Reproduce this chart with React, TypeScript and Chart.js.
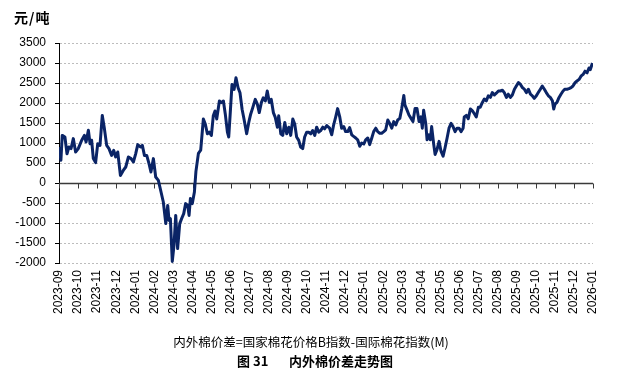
import React, { useEffect, useRef } from 'react';
import { Chart, registerables } from 'chart.js';

Chart.register(...registerables);

const monthLabels = [
  '2023-09', '2023-10', '2023-11', '2023-12', '2024-01', '2024-02', '2024-03', '2024-04',
  '2024-05', '2024-06', '2024-07', '2024-08', '2024-09', '2024-10', '2024-11', '2024-12',
  '2025-01', '2025-02', '2025-03', '2025-04', '2025-05', '2025-06', '2025-07', '2025-08',
  '2025-09', '2025-10', '2025-11', '2025-12', '2026-01',
];

// position along the time axis, in months since 2023-09
const monthPos = [
  0.00, 0.10, 0.17, 0.31, 0.42, 0.52, 0.63, 0.75, 0.87, 1.01,
  1.19, 1.33, 1.42, 1.54, 1.63, 1.71, 1.80, 1.92, 2.03, 2.15,
  2.27, 2.38, 2.50, 2.62, 2.76, 2.87, 2.97, 3.08, 3.22, 3.37,
  3.50, 3.64, 3.78, 3.90, 4.02, 4.13, 4.27, 4.37, 4.48, 4.60,
  4.72, 4.82, 4.95, 5.07, 5.21, 5.35, 5.47, 5.60, 5.70, 5.77,
  5.84, 5.94, 6.03, 6.12, 6.22, 6.33, 6.43, 6.54, 6.64, 6.75,
  6.82, 6.89, 6.99, 7.10, 7.18, 7.31, 7.43, 7.57, 7.67, 7.78,
  7.88, 7.99, 8.09, 8.18, 8.27, 8.41, 8.51, 8.62, 8.72, 8.83,
  8.90, 8.97, 9.07, 9.18, 9.28, 9.39, 9.49, 9.60, 9.70, 9.84,
  9.95, 10.05, 10.16, 10.29, 10.40, 10.50, 10.61, 10.71, 10.82, 10.92,
  11.03, 11.13, 11.24, 11.34, 11.45, 11.52, 11.63, 11.73, 11.84, 11.94,
  12.05, 12.15, 12.26, 12.36, 12.46, 12.57, 12.67, 12.78, 12.88, 12.99,
  13.09, 13.20, 13.30, 13.41, 13.51, 13.62, 13.72, 13.83, 13.93, 14.04,
  14.19, 14.30, 14.40, 14.51, 14.61, 14.72, 14.82, 14.93, 15.03, 15.14,
  15.24, 15.35, 15.45, 15.56, 15.66, 15.77, 15.87, 15.98, 16.08, 16.19,
  16.29, 16.40, 16.50, 16.61, 16.71, 16.82, 16.92, 17.03, 17.13, 17.24,
  17.34, 17.45, 17.55, 17.66, 17.76, 17.87, 17.97, 18.08, 18.14, 18.25,
  18.35, 18.46, 18.56, 18.67, 18.77, 18.88, 18.98, 19.05, 19.12, 19.23,
  19.30, 19.40, 19.47, 19.54, 19.65, 19.72, 19.82, 19.93, 20.03, 20.14,
  20.24, 20.35, 20.45, 20.56, 20.66, 20.77, 20.87, 20.98, 21.08, 21.19,
  21.25, 21.36, 21.46, 21.57, 21.67, 21.78, 21.88, 21.99, 22.09, 22.20,
  22.30, 22.41, 22.51, 22.62, 22.72, 22.83, 22.93, 23.04, 23.14, 23.25,
  23.35, 23.46, 23.56, 23.67, 23.77, 23.88, 23.98, 24.09, 24.19, 24.30,
  24.40, 24.51, 24.61, 24.72, 24.82, 24.92, 25.03, 25.13, 25.24, 25.34,
  25.45, 25.55, 25.66, 25.76, 25.87, 25.94, 26.01, 26.11, 26.22, 26.32,
  26.43, 26.53, 26.64, 26.74, 26.85, 26.95, 27.06, 27.16, 27.27, 27.37,
  27.48, 27.58, 27.69, 27.79, 27.86, 27.97,
];

// 内外棉价差 (元/吨)
const spread = [
  900, 570, 1190, 1150, 730, 900, 860, 1110, 775, 860,
  1070, 1190, 1025, 1320, 980, 1070, 610, 510, 980, 940,
  1690, 1360, 940, 860, 690, 815, 650, 775, 190, 315,
  400, 650, 610, 525, 730, 960, 900, 940, 690, 690,
  485, 275, 610, 150, 65, -225, -475, -1015, -560, -935,
  -890, -1960, -1560, -810, -1640, -1015, -890, -765, -515, -560,
  -810, -390, -515, -225, 290, 740, 820, 1600, 1475, 1230,
  1270, 1190, 1680, 1800, 1600, 2050, 2010, 2050, 1720, 1270,
  1150, 1680, 2460, 2340, 2630, 2380, 2255, 1845, 1600, 1230,
  1515, 1720, 1885, 2090, 1970, 1760, 2010, 2130, 2050, 2300,
  2010, 2090, 1760, 1640, 1395, 1680, 1230, 1190, 1515, 1230,
  1395, 1190, 1600, 1475, 1150, 1065, 900, 860, 1150, 1270,
  1270, 1230, 1310, 1190, 1395, 1270, 1310, 1395, 1355, 1435,
  1370, 1205, 1450, 1655, 1860, 1655, 1370, 1410, 1285, 1285,
  1385, 1205, 1165, 1125, 1080, 920, 1000, 975, 1080, 1125,
  960, 1125, 1285, 1370, 1285, 1245, 1245, 1285, 1330, 1575,
  1490, 1370, 1535, 1450, 1575, 1615, 1860, 2190, 1945, 1820,
  1700, 1615, 1535, 1860, 1860, 1535, 1655, 1370, 1820, 1490,
  1080, 1205, 1080, 1410, 960, 715, 835, 1040, 795, 670,
  875, 1125, 1370, 1490, 1410, 1285, 1370, 1370, 1285, 1370,
  1650, 1690, 1605, 1850, 1810, 1730, 1650, 1895, 1895, 2015,
  2100, 2055, 2180, 2140, 2260, 2200, 2245, 2300, 2300, 2320,
  2260, 2140, 2220, 2140, 2200, 2345, 2425, 2510, 2470, 2385,
  2345, 2260, 2345, 2220, 2180, 2115, 2180, 2260, 2345, 2425,
  2345, 2260, 2180, 2140, 2055, 1850, 1975, 2015, 2140, 2220,
  2300, 2345, 2345, 2360, 2385, 2425, 2510, 2550, 2590, 2670,
  2715, 2795, 2755, 2875, 2835, 3000,
];

const yMin = -2000;
const yMax = 3500;
const yStep = 500;

const unitLabel = '元/吨';
const noteText = '内外棉价差=国家棉花价格B指数-国际棉花指数(M)';
const figNo = '图 31';
const figTitle = '内外棉价差走势图';

const axisPlugin = {
  id: 'axisDecor',
  beforeDatasetsDraw(chart: any) {
    const { ctx, chartArea, scales } = chart;
    const yScale = scales.y;
    ctx.save();
    // dotted horizontal gridlines
    ctx.strokeStyle = '#bdbdbd';
    ctx.lineWidth = 1;
    ctx.setLineDash([2, 2]);
    ctx.beginPath();
    yScale.ticks.forEach((t: any) => {
      if (t.value === 0) return;
      const y = Math.round(yScale.getPixelForValue(t.value)) + 0.5;
      ctx.moveTo(chartArea.left + 1, y);
      ctx.lineTo(chartArea.right, y);
    });
    ctx.stroke();
    ctx.setLineDash([]);
    // y tick marks
    ctx.strokeStyle = '#000';
    ctx.beginPath();
    yScale.ticks.forEach((t: any) => {
      const y = Math.round(yScale.getPixelForValue(t.value)) + 0.5;
      ctx.moveTo(chartArea.left - 4, y);
      ctx.lineTo(chartArea.left, y);
    });
    ctx.stroke();
    // zero axis line with month tick marks
    const y0 = Math.round(yScale.getPixelForValue(0)) + 0.5;
    ctx.strokeStyle = '#3a3a3a';
    ctx.lineWidth = 1.5;
    ctx.beginPath();
    ctx.moveTo(chartArea.left, y0);
    ctx.lineTo(chartArea.right, y0);
    ctx.stroke();
    ctx.lineWidth = 1;
    ctx.beginPath();
    monthLabels.forEach((_, i) => {
      const x = Math.round(scales.x.getPixelForValue(i)) + 0.5;
      ctx.moveTo(x, y0);
      ctx.lineTo(x, y0 + 5);
    });
    ctx.stroke();
    ctx.restore();
  },
};

export default function App() {
  const canvasRef = useRef<HTMLCanvasElement | null>(null);

  useEffect(() => {
    const canvas = canvasRef.current;
    if (!canvas) return;
    const chart = new Chart(canvas, {
      type: 'line',
      data: {
        datasets: [
          {
            label: '内外棉价差',
            data: monthPos.map((m, i) => ({ x: m, y: spread[i] })),
            borderColor: '#0a2466',
            borderWidth: 3,
            pointRadius: 0,
            tension: 0,
            fill: false,
            borderJoinStyle: 'round',
          },
        ],
      },
      options: {
        responsive: false,
        animation: false,
        devicePixelRatio: 1,
        layout: { padding: { left: 0, right: 29, top: 43, bottom: 0 } },
        plugins: {
          legend: { display: false },
          tooltip: { enabled: false },
          title: { display: false },
        },
        scales: {
          x: {
            type: 'linear',
            position: 'bottom',
            min: 0,
            max: monthLabels.length - 1,
            afterFit: (s: any) => {
              s.height = 110;
            },
            ticks: {
              stepSize: 1,
              autoSkip: false,
              minRotation: 90,
              maxRotation: 90,
              padding: 7,
              color: '#000',
              font: { family: '"Liberation Sans", Arial, sans-serif', size: 12 },
              callback: (v: any) => monthLabels[Math.round(Number(v))] ?? '',
            },
            grid: { display: false, drawTicks: false },
            border: { display: false },
          },
          y: {
            min: yMin,
            max: yMax,
            afterFit: (s: any) => {
              s.width = 59;
            },
            ticks: {
              stepSize: yStep,
              padding: 13,
              color: '#000',
              font: { family: '"Liberation Sans", Arial, sans-serif', size: 12 },
              callback: (v: any) => String(v),
            },
            grid: { display: false, drawTicks: false },
            border: { display: true, color: '#000', width: 1 },
          },
        },
      },
      plugins: [axisPlugin],
    } as any);
    return () => chart.destroy();
  }, []);

  return (
    <div
      style={{
        position: 'fixed',
        left: 0,
        top: 0,
        width: 622,
        height: 373,
        background: '#fff',
        fontFamily: '"Noto Sans CJK SC", sans-serif',
      }}
    >
      <canvas ref={canvasRef} width={622} height={373} style={{ display: 'block' }} />
      <div
        style={{
          position: 'absolute',
          left: 14,
          top: 9,
          fontSize: 14,
          fontWeight: 700,
          color: '#000',
          lineHeight: '16px',
          letterSpacing: 1,
        }}
      >
        {unitLabel}
      </div>
      <div
        style={{
          position: 'absolute',
          left: 0,
          width: 622,
          top: 334,
          textAlign: 'center',
          fontSize: 12.5,
          color: '#000',
          lineHeight: '15px',
        }}
      >
        {noteText}
      </div>
      <div
        style={{
          position: 'absolute',
          left: 4,
          width: 622,
          top: 353,
          textAlign: 'center',
          fontSize: 13,
          fontWeight: 700,
          color: '#000',
          lineHeight: '16px',
          whiteSpace: 'pre',
        }}
      >
        {figNo + '       ' + figTitle}
      </div>
    </div>
  );
}
